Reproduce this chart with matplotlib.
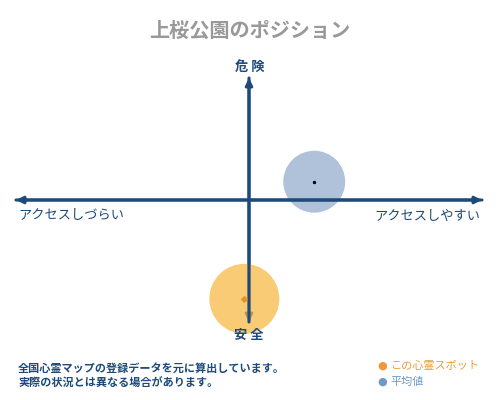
import matplotlib
matplotlib.use("Agg")
import matplotlib.pyplot as plt

plt.rcParams['font.family'] = ['Noto Sans CJK JP', 'DejaVu Sans']

title = "上桜公園のポジション"
axis_top, axis_bottom = "危 険", "安 全"
axis_left, axis_right = "アクセスしづらい", "アクセスしやすい"
notes = ["全国心霊マップの登録データを元に算出しています。",
         "実際の状況とは異なる場合があります。"]
legend_labels = ["この心霊スポット", "平均値"]

# positions on the (-1..1) access / danger plane
spot_xy = (-0.02, -0.81)
avg_xy = (0.28, 0.15)

navy = "#1d4a7a"
orange = "#f7b53b"
blue = "#8fa9cb"

fig = plt.figure(figsize=(5, 4), dpi=100)
fig.patch.set_facecolor("white")

ax = fig.add_axes([16 / 500, 78 / 400, 466 / 500, 244 / 400])
ax.set_xlim(-1, 1)
ax.set_ylim(-1, 1)
ax.axis("off")

arrow = dict(arrowstyle="-|>", color=navy, lw=2.2, mutation_scale=10, shrinkA=0, shrinkB=0)
ax.annotate("", xy=(-1, 0), xytext=(1, 0), arrowprops=arrow)
ax.annotate("", xy=(1, 0), xytext=(-1, 0), arrowprops=arrow)
ax.annotate("", xy=(0, 1), xytext=(0, -1), arrowprops=arrow)
ax.annotate("", xy=(0, -1), xytext=(0, 1), arrowprops=arrow, zorder=1)

ax.scatter(*avg_xy, s=1990, color=blue, alpha=0.7, edgecolors="none", zorder=2, clip_on=False)
ax.scatter(*avg_xy, s=2, color="black", zorder=3)
ax.scatter(*spot_xy, s=2540, color=orange, alpha=0.7, edgecolors="none", zorder=2, clip_on=False)
ax.scatter(*spot_xy, s=8, color="#e8921e", marker="D", zorder=3, clip_on=False)

fig.text(0.5, 1 - 30 / 400, title, ha="center", va="center", fontsize=14.5,
         color="#999999", fontweight="bold")
fig.text(250 / 500, 1 - 67 / 400, axis_top, ha="center", va="center", fontsize=9.5,
         color=navy, fontweight="bold")
fig.text(249 / 500, 1 - 335 / 400, axis_bottom, ha="center", va="center", fontsize=9.5,
         color=navy, fontweight="bold")
fig.text(18 / 500, 1 - 216 / 400, axis_left, ha="left", va="center", fontsize=9.5,
         color=navy)
fig.text(480 / 500, 1 - 216 / 400, axis_right, ha="right", va="center", fontsize=9.5,
         color=navy)

for i, line in enumerate(notes):
    fig.text(18 / 500, 1 - (368 + 15 * i) / 400, line, ha="left", va="center",
             fontsize=8, color=navy, fontweight="bold")

leg_colors = ["#ee9a3a", "#6f9ac6"]
for i, (lab, c) in enumerate(zip(legend_labels, leg_colors)):
    y = 1 - (366 + 16 * i) / 400
    fig.text(382 / 500, y, "●", ha="center", va="center", fontsize=8, color=c,
             family="DejaVu Sans")
    fig.text(390 / 500, y, lab, ha="left", va="center", fontsize=8, color=c)

fig.savefig("out.png", dpi=100, facecolor="white")
